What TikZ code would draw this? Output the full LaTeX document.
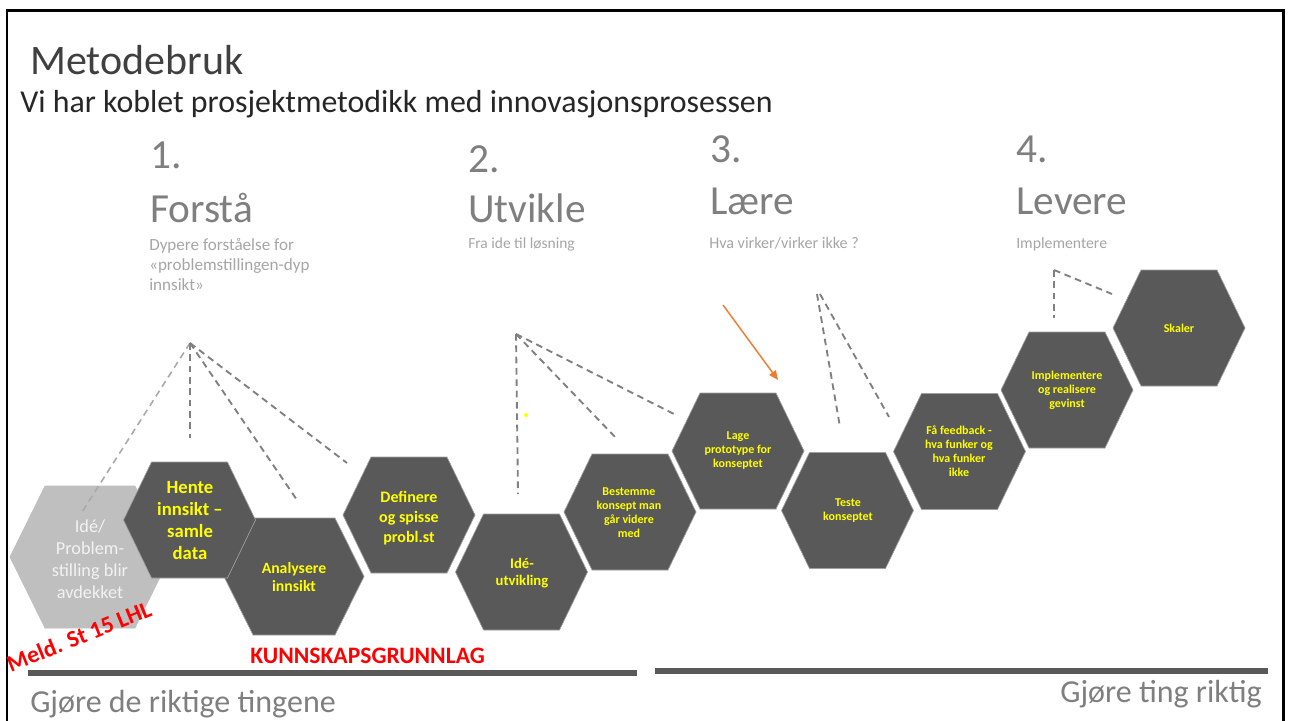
\documentclass[tikz,border=0pt]{standalone}
\usepackage{fontspec}
\setmainfont{Carlito}
\usetikzlibrary{arrows.meta}
\definecolor{hexdark}{HTML}{595959}
\definecolor{hexlight}{HTML}{BFBFBF}
\definecolor{hexyellow}{HTML}{FFFF00}
\definecolor{titlegray}{HTML}{404040}
\definecolor{subtitlegray}{HTML}{262626}
\definecolor{headgray}{HTML}{7F7F7F}
\definecolor{subgray}{HTML}{A6A6A6}
\definecolor{dashgray}{HTML}{808080}
\definecolor{dashlight}{HTML}{AAAAAA}
\definecolor{arroworange}{HTML}{ED7D31}
\definecolor{alertred}{HTML}{FF0000}
\definecolor{edgegray}{HTML}{A0A0A0}
\definecolor{greytext}{HTML}{F2F2F2}
% style, cx, cy, half width, corner offset, half height
\newcommand{\hexdraw}[6]{%
  \path[#1] (#2,#3) ++(-#4,0) -- ++(#5,-#6) -- ++({2*(#4-#5)},0) -- ++(#5,#6)
    -- ++(-#5,#6) -- ++({-2*(#4-#5)},0) -- cycle;}
\begin{document}
\begin{tikzpicture}[x=0.75pt,y=-0.75pt,
  darkhex/.style={fill=hexdark,draw=edgegray,line width=0.5pt},
  lighthex/.style={fill=hexlight,draw=hexlight,line width=0.5pt},
  hextxt/.style={align=center,text=hexyellow,inner sep=0,font=\bfseries\fontsize{9}{10.5}\selectfont},
  greytxt/.style={align=center,text=greytext,inner sep=0,font=\fontsize{13.7}{16.5}\selectfont},
  titletxt/.style={anchor=base west,inner sep=0,text=titlegray,font=\fontsize{31.5}{36}\selectfont},
  subtitletxt/.style={anchor=base west,inner sep=0,text=subtitlegray,font=\fontsize{23.9}{28}\selectfont},
  headtxt/.style={anchor=base west,inner sep=0,text=headgray,font=\fontsize{31}{36}\selectfont},
  subtxt/.style={anchor=base west,inner sep=0,text=subgray,font=\fontsize{11.8}{15}\selectfont},
  bottomtxt/.style={inner sep=0,text=headgray,font=\fontsize{24}{28}\selectfont},
  redtxt/.style={inner sep=0,text=alertred,font=\bfseries\fontsize{17.7}{21}\selectfont},
  dashline/.style={draw=dashgray,line width=1.4pt,dash pattern=on 5pt off 3.5pt},
  dashlightline/.style={draw=dashlight,line width=1.2pt,dash pattern=on 5pt off 3.5pt},
  barline/.style={draw=hexdark,line width=4.5pt},
  framed/.style={draw=black,line width=2pt}
]
\useasboundingbox (0,0) rectangle (1289,721);
\fill[white] (0,0) rectangle (1289,721);
\draw[framed] (7,722) -- (7,10.5) -- (1283.5,10.5) -- (1283.5,722);

% titles
\node[titletxt] (title) at (30,74) {Metodebruk};
\node[subtitletxt] (subtitle) at (20,112) {Vi har koblet prosjektmetodikk med innovasjonsprosessen};

% phase headings
\node[headtxt] (n1) at (150,168) {1.};
\node[headtxt] (h1) at (150,222) {Forstå};
\node[subtxt,font=\fontsize{12.8}{15}\selectfont] (s1) at (149,250) {\begin{tabular}[t]{@{}l@{}}Dypere forståelse for\\«problemstillingen-dyp\\innsikt»\end{tabular}};
\node[headtxt] (n2) at (468,172) {2.};
\node[headtxt] (h2) at (468,222) {Utvikle};
\node[subtxt,font=\fontsize{11.6}{15}\selectfont] (s2) at (468,248) {Fra ide til løsning};
\node[headtxt] (n3) at (710,162) {3.};
\node[headtxt] (h3) at (710,214) {Lære};
\node[subtxt,font=\fontsize{12.1}{15}\selectfont] (s3) at (709,248) {Hva virker/virker ikke ?};
\node[headtxt] (n4) at (1016,162) {4.};
\node[headtxt] (h4) at (1016,214) {Levere};
\node[subtxt] (s4) at (1016,248) {Implementere};

% hexagons
\hexdraw{lighthex}{90}{557}{80}{35}{71}
\node[greytxt] (idea) at (90,559) {Idé/\\Problem-\\stilling blir\\avdekket};
\hexdraw{darkhex}{294}{576.5}{70}{29}{58.5}
\node[hextxt,font=\bfseries\fontsize{11.8}{13.5}\selectfont] (analyse) at (294,577) {Analysere\\innsikt};
\hexdraw{darkhex}{189.5}{520}{66}{28}{58}
\node[hextxt,font=\bfseries\fontsize{14}{16.5}\selectfont] (hente) at (190,521) {Hente\\innsikt –\\samle\\data};
\hexdraw{darkhex}{409}{515}{66}{28}{58}
\node[hextxt,font=\bfseries\fontsize{12}{15}\selectfont] (definere) at (409,518) {Definere\\og spisse\\probl.st};
\hexdraw{darkhex}{521.5}{572}{66}{28}{58}
\node[hextxt,font=\bfseries\fontsize{11}{12.75}\selectfont] (ideutv) at (522,573) {Idé-\\utvikling};
\hexdraw{darkhex}{630}{512}{66}{28}{58}
\node[hextxt] (bestemme) at (629,513) {Bestemme\\konsept man\\går videre\\med};
\hexdraw{darkhex}{738}{451}{66}{28}{58}
\node[hextxt] (lage) at (738,451) {Lage\\prototype for\\konseptet};
\hexdraw{darkhex}{847.5}{510.5}{66}{28}{58}
\node[hextxt] (teste) at (848,511) {Teste\\konseptet};
\hexdraw{darkhex}{959.5}{451.5}{66}{28}{58}
\node[hextxt] (feedback) at (959,451) {Få feedback -\\hva funker og\\hva funker\\ikke};
\hexdraw{darkhex}{1067}{390}{66}{28}{58}
\node[hextxt] (impl) at (1067,390) {Implementere\\og realisere\\gevinst};
\hexdraw{darkhex}{1179}{328}{66}{28}{58}
\node[hextxt] (skaler) at (1179,328) {Skaler};

% dashed connectors
\coordinate (a1) at (190,343);
\coordinate (e1a) at (82,512);
\coordinate (e1b) at (190,438);
\coordinate (e1c) at (297,500);
\coordinate (e1d) at (347,463);
\draw[dashlightline] (a1) -- (e1a);
\draw[dashline] (a1) -- (e1b);
\draw[dashline] (a1) -- (e1c);
\draw[dashline] (a1) -- (e1d);
\coordinate (a2) at (516,334);
\coordinate (e2a) at (518,494);
\coordinate (e2b) at (617,439);
\coordinate (e2c) at (674,414);
\draw[dashline] (a2) -- (e2a);
\draw[dashline] (a2) -- (e2b);
\draw[dashline] (a2) -- (e2c);
\coordinate (a3a) at (817,294);
\coordinate (a3b) at (820,294);
\coordinate (e3a) at (840,427);
\coordinate (e3b) at (889,417);
\draw[dashline] (a3a) -- (e3a);
\draw[dashline] (a3b) -- (e3b);
\coordinate (a4) at (1054,270);
\coordinate (e4a) at (1054,318);
\coordinate (e4b) at (1112,294);
\draw[dashline] (a4) -- (e4a);
\draw[dashline] (a4) -- (e4b);

% yellow dot
\fill[hexyellow] (526,415) circle[radius=2];

% orange arrow
\coordinate (oa) at (723,305);
\coordinate (ob) at (778,380);
\draw[arroworange,line width=1.1pt,-{Triangle[length=7pt,width=6pt]}] (oa) -- (ob);

% bars
\coordinate (b1s) at (28,673);
\coordinate (b1e) at (637,673);
\coordinate (b2s) at (655,671);
\coordinate (b2e) at (1268,671);
\draw[barline] (b1s) -- (b1e);
\draw[barline] (b2s) -- (b2e);

% red labels
\node[redtxt,anchor=base west] (kunn) at (250,663) {KUNNSKAPSGRUNNLAG};
\node[redtxt,anchor=base,rotate=22] (meld) at (82,644) {Meld. St 15 LHL};

% bottom labels
\node[bottomtxt,anchor=base west] (left) at (30,712) {Gjøre de riktige tingene};
\node[bottomtxt,anchor=base east] (right) at (1262,702) {Gjøre ting riktig};
\end{tikzpicture}
\end{document}
